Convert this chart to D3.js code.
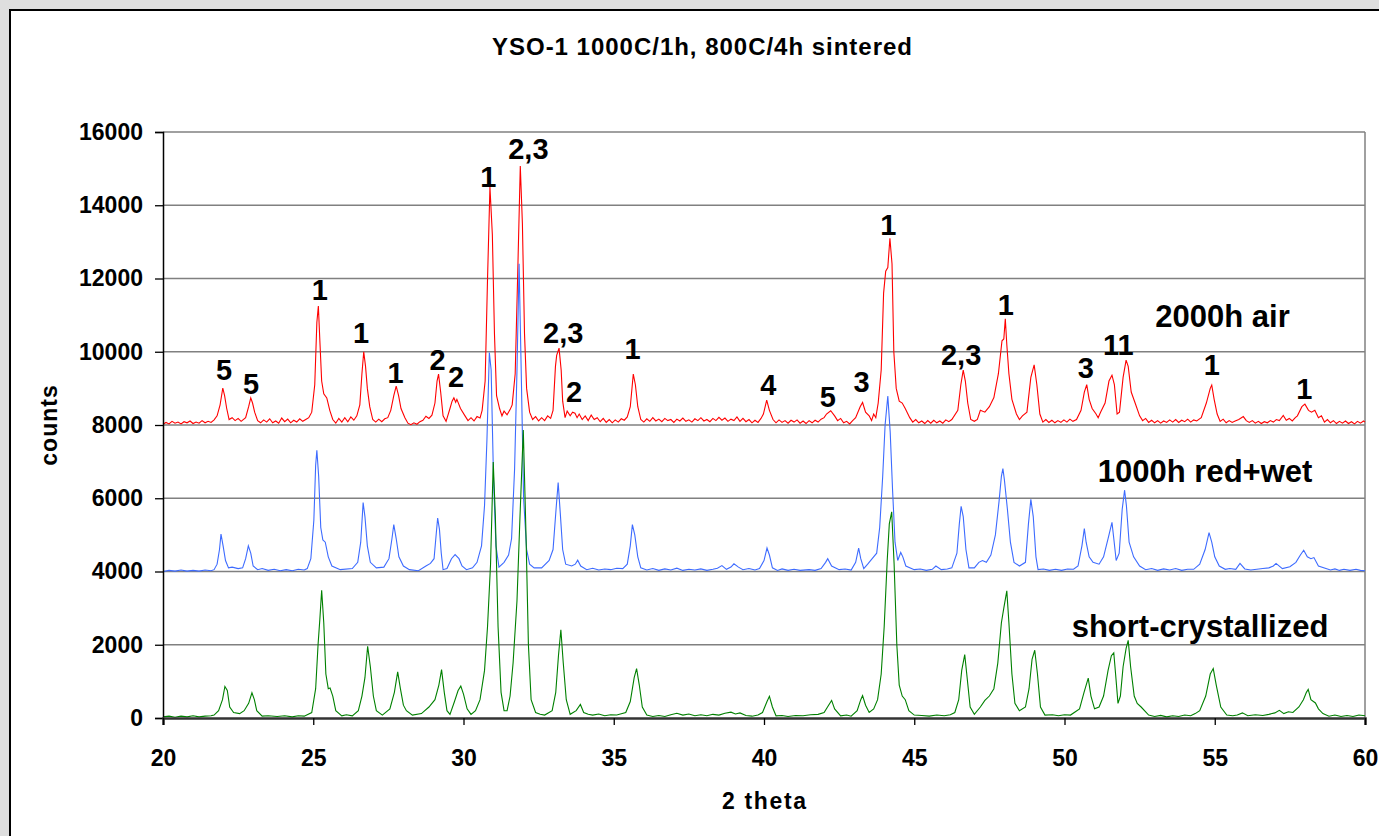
<!DOCTYPE html>
<html>
<head>
<meta charset="utf-8">
<script src="https://cdn.jsdelivr.net/npm/d3@7/dist/d3.min.js"></script>
<style>
body{margin:0;background:#dedede;overflow:hidden;}
text{font-family:"Liberation Sans",Arial,sans-serif;font-weight:bold;fill:#000;}
</style>
</head>
<body>
<div class="canvas"></div>
<script>
// ---- data: [2 theta, counts] ----
const xTicks=[20,25,30,35,40,45,50,55,60];
const yTicks=[0,2000,4000,6000,8000,10000,12000,14000,16000];

// 2000h air (plotted with +8000 offset)
const airTrace=[[20,8020],[20.1,8070],[20.2,8030],[20.3,8100],[20.4,8050],[20.5,8080],[20.6,8030],[20.7,8090],
[20.8,8060],[20.9,8110],[21,8040],[21.1,8080],[21.2,8050],[21.3,8120],[21.4,8060],[21.5,8100],[21.6,8070],[21.7,8140],
[21.8,8250],[21.9,8550],[21.99,9010],[22.05,8800],[22.12,8450],[22.2,8150],[22.3,8200],[22.4,8120],[22.5,8180],
[22.6,8100],[22.75,8200],[22.85,8500],[22.92,8740],[22.98,8600],[23.05,8350],[23.15,8120],[23.25,8060],[23.35,8140],
[23.45,8080],[23.55,8170],[23.65,8060],[23.75,8110],[23.85,8050],[23.95,8190],[24.05,8090],[24.15,8160],[24.25,8060],
[24.35,8130],[24.45,8080],[24.55,8170],[24.65,8100],[24.75,8150],[24.85,8200],[24.95,8350],[25.05,9100],[25.12,10800],
[25.17,11250],[25.22,10300],[25.28,9200],[25.35,8850],[25.45,8740],[25.55,8400],[25.65,8150],[25.75,8050],[25.85,8180],
[25.95,8080],[26.05,8200],[26.15,8090],[26.25,8220],[26.35,8130],[26.45,8250],[26.55,8550],[26.62,9400],[26.68,10000],
[26.74,9600],[26.8,9000],[26.88,8500],[26.98,8150],[27.08,8080],[27.18,8160],[27.28,8090],[27.38,8170],[27.48,8200],
[27.58,8400],[27.68,8800],[27.76,9060],[27.84,8800],[27.92,8450],[28.05,8200],[28.15,8050],[28.25,8010],[28.35,8060],
[28.45,8020],[28.55,8090],[28.65,8130],[28.75,8240],[28.85,8180],[28.95,8270],[29.05,8600],[29.12,9200],[29.17,9390],
[29.24,8900],[29.32,8250],[29.42,8100],[29.55,8450],[29.62,8650],[29.68,8740],[29.74,8620],[29.78,8700],[29.9,8450],
[30.05,8250],[30.15,8120],[30.25,8200],[30.35,8110],[30.45,8230],[30.55,8190],[30.62,8400],[30.72,9200],[30.8,12000],
[30.88,14500],[30.96,13200],[31.03,10500],[31.1,8800],[31.2,8450],[31.28,8250],[31.35,8380],[31.45,8280],[31.55,8420],
[31.62,8550],[31.72,9400],[31.8,12000],[31.89,15070],[31.96,13500],[32.03,10500],[32.1,9000],[32.2,8350],[32.3,8150],
[32.4,8230],[32.5,8110],[32.6,8200],[32.7,8120],[32.8,8250],[32.9,8180],[32.98,8400],[33.06,9600],[33.1,9900],
[33.18,10100],[33.25,9500],[33.3,8650],[33.38,8200],[33.45,8380],[33.55,8250],[33.63,8350],[33.71,8320],[33.78,8200],
[33.85,8300],[33.95,8150],[34.05,8250],[34.15,8120],[34.25,8270],[34.35,8150],[34.45,8200],[34.55,8090],[34.65,8180],
[34.75,8070],[34.85,8150],[34.95,8060],[35.05,8140],[35.15,8080],[35.25,8170],[35.35,8130],[35.45,8220],[35.55,8500],
[35.65,9390],[35.72,9100],[35.8,8500],[35.9,8150],[36,8080],[36.1,8170],[36.2,8100],[36.3,8200],[36.4,8110],[36.5,8160],
[36.6,8090],[36.7,8180],[36.8,8120],[36.9,8150],[37,8070],[37.1,8160],[37.2,8110],[37.3,8190],[37.4,8100],[37.5,8140],
[37.6,8080],[37.7,8170],[37.8,8120],[37.9,8200],[38,8110],[38.1,8150],[38.2,8090],[38.3,8180],[38.4,8120],[38.5,8210],
[38.6,8130],[38.7,8190],[38.8,8100],[38.9,8160],[39,8120],[39.1,8220],[39.2,8100],[39.3,8180],[39.4,8090],[39.5,8150],
[39.6,8060],[39.7,8130],[39.8,8070],[39.9,8180],[39.98,8300],[40.09,8680],[40.18,8400],[40.3,8150],[40.4,8060],
[40.5,8140],[40.6,8070],[40.7,8120],[40.8,8050],[40.9,8130],[41,8080],[41.1,8140],[41.2,8050],[41.3,8110],[41.4,8040],
[41.5,8120],[41.6,8060],[41.7,8130],[41.8,8080],[41.9,8160],[42,8200],[42.08,8300],[42.22,8390],[42.35,8250],
[42.45,8120],[42.55,8180],[42.65,8060],[42.75,8100],[42.85,8030],[42.95,8120],[43.05,8200],[43.2,8500],[43.28,8615],
[43.38,8350],[43.5,8250],[43.58,8120],[43.65,8300],[43.72,8200],[43.8,8600],[43.9,9500],[43.98,11600],[44.05,12200],
[44.12,12300],[44.19,13100],[44.26,12400],[44.32,10000],[44.4,9000],[44.5,8650],[44.6,8600],[44.7,8450],[44.85,8200],
[44.95,8080],[45.05,8150],[45.15,8060],[45.25,8110],[45.35,8040],[45.45,8120],[45.55,8050],[45.65,8130],[45.75,8060],
[45.85,8110],[45.95,8050],[46.05,8140],[46.15,8090],[46.25,8150],[46.45,8400],[46.55,9100],[46.63,9500],[46.7,9200],
[46.78,8600],[46.88,8150],[47,8100],[47.1,8150],[47.2,8400],[47.35,8350],[47.5,8500],[47.65,8750],[47.8,9400],
[47.92,10300],[47.98,10350],[48.03,10900],[48.08,10200],[48.15,9400],[48.25,8700],[48.4,8300],[48.5,8150],[48.6,8250],
[48.75,8350],[48.88,9300],[48.99,9640],[49.08,9100],[49.18,8300],[49.28,8080],[49.38,8150],[49.48,8070],[49.58,8130],
[49.68,8060],[49.78,8120],[49.88,8070],[49.98,8140],[50.08,8080],[50.18,8160],[50.28,8100],[50.4,8150],[50.55,8400],
[50.66,8900],[50.74,9100],[50.82,8700],[50.92,8450],[51.05,8300],[51.12,8200],[51.2,8350],[51.35,8600],[51.48,9200],
[51.58,9360],[51.66,9100],[51.75,8300],[51.83,8350],[51.95,9300],[52.05,9770],[52.12,9600],[52.22,8900],[52.35,8600],
[52.5,8250],[52.6,8120],[52.7,8180],[52.8,8070],[52.9,8130],[53,8060],[53.1,8120],[53.2,8050],[53.3,8110],[53.4,8070],
[53.5,8140],[53.6,8080],[53.7,8150],[53.8,8070],[53.9,8130],[54,8090],[54.1,8160],[54.2,8080],[54.3,8140],[54.4,8110],
[54.55,8200],[54.72,8600],[54.85,9000],[54.9,9090],[54.98,8700],[55.08,8300],[55.18,8100],[55.28,8160],[55.38,8060],
[55.48,8120],[55.58,8070],[55.68,8110],[55.8,8150],[55.95,8230],[56.05,8120],[56.15,8070],[56.25,8120],[56.35,8050],
[56.45,8100],[56.55,8040],[56.65,8090],[56.75,8060],[56.85,8120],[56.95,8080],[57.05,8150],[57.15,8120],[57.28,8260],
[57.38,8130],[57.48,8180],[57.58,8110],[57.68,8200],[57.75,8250],[57.9,8500],[58,8570],[58.12,8400],[58.22,8350],
[58.33,8400],[58.45,8200],[58.55,8250],[58.65,8080],[58.75,8150],[58.85,8060],[58.95,8120],[59.05,8040],[59.15,8100],
[59.25,8050],[59.35,8110],[59.45,8040],[59.55,8090],[59.65,8030],[59.75,8100],[59.85,8050],[59.95,8110],[60,8080]];

// 1000h red+wet (plotted with +4000 offset)
const wetTrace=[[20,4000],[20.2,4030],[20.4,4010],[20.6,4040],[20.8,4010],[21,4030],[21.2,4010],[21.4,4040],
[21.6,4020],[21.7,4050],[21.8,4200],[21.88,4600],[21.93,5020],[22,4700],[22.08,4300],[22.18,4100],[22.3,4120],
[22.5,4080],[22.65,4100],[22.75,4350],[22.84,4700],[22.92,4500],[23,4150],[23.15,4050],[23.3,4080],[23.5,4030],
[23.7,4060],[23.9,4020],[24.1,4050],[24.3,4020],[24.5,4060],[24.7,4040],[24.8,4080],[24.92,4350],[25.02,5400],
[25.08,6900],[25.12,7310],[25.18,6600],[25.25,5200],[25.32,4860],[25.4,4800],[25.5,4400],[25.62,4150],[25.9,4050],
[26.3,4080],[26.48,4250],[26.58,4800],[26.66,5880],[26.72,5500],[26.8,4700],[26.9,4250],[27.1,4100],[27.35,4120],
[27.52,4350],[27.62,4900],[27.68,5280],[27.76,4900],[27.85,4400],[28,4150],[28.2,4050],[28.5,4020],[28.75,4150],
[28.9,4220],[29.02,4350],[29.1,5100],[29.14,5460],[29.2,5150],[29.26,4500],[29.32,4050],[29.45,4080],[29.6,4350],
[29.72,4460],[29.85,4350],[29.95,4150],[30.1,4050],[30.3,4100],[30.45,4250],[30.6,4700],[30.7,5800],[30.78,7600],
[30.86,9980],[30.92,9500],[31,6500],[31.08,4700],[31.18,4120],[31.35,4250],[31.5,4450],[31.6,4900],[31.7,6800],
[31.78,9500],[31.85,12400],[31.92,9500],[32,6000],[32.1,4600],[32.2,4200],[32.35,4100],[32.6,4100],[32.85,4300],
[32.98,4600],[33.08,5700],[33.15,6430],[33.22,5600],[33.3,4600],[33.4,4200],[33.6,4150],[33.72,4200],[33.8,4310],
[33.9,4150],[34.1,4050],[34.3,4090],[34.5,4040],[34.7,4070],[34.9,4050],[35.1,4090],[35.3,4080],[35.45,4200],
[35.55,4700],[35.62,5280],[35.7,5000],[35.8,4400],[35.9,4100],[36.1,4040],[36.3,4080],[36.5,4030],[36.7,4070],
[36.9,4040],[37.1,4090],[37.3,4030],[37.5,4060],[37.7,4040],[37.9,4070],[38.1,4030],[38.3,4060],[38.45,4090],
[38.6,4160],[38.75,4060],[38.9,4120],[39,4210],[39.15,4120],[39.3,4050],[39.5,4080],[39.7,4040],[39.85,4080],
[40,4300],[40.1,4640],[40.18,4450],[40.28,4100],[40.45,4030],[40.6,4070],[40.8,4030],[41,4060],[41.2,4030],[41.5,4050],
[41.7,4030],[41.9,4080],[42.05,4250],[42.12,4350],[42.25,4150],[42.5,4050],[42.7,4070],[42.9,4040],[43.05,4250],
[43.15,4640],[43.22,4350],[43.32,4080],[43.45,4200],[43.6,4350],[43.75,4500],[43.85,5200],[43.95,6600],[44.03,8000],
[44.12,8790],[44.2,7800],[44.28,6200],[44.36,4800],[44.45,4300],[44.55,4520],[44.62,4400],[44.72,4150],[45,4050],
[45.2,4070],[45.4,4030],[45.6,4060],[45.72,4150],[45.9,4050],[46.1,4070],[46.25,4100],[46.42,4500],[46.5,5300],
[46.56,5780],[46.63,5500],[46.72,4600],[46.82,4100],[47,4100],[47.15,4250],[47.27,4300],[47.4,4250],[47.55,4450],
[47.7,5000],[47.82,5900],[47.9,6600],[47.95,6810],[48,6500],[48.1,5700],[48.2,4800],[48.32,4250],[48.5,4150],
[48.7,4250],[48.8,5300],[48.88,5970],[48.96,5500],[49.05,4400],[49.12,4050],[49.3,4070],[49.5,4030],[49.7,4060],
[49.9,4030],[50.1,4070],[50.3,4060],[50.45,4150],[50.58,4700],[50.66,5170],[50.72,4800],[50.82,4400],[50.95,4250],
[51.15,4200],[51.3,4400],[51.45,4900],[51.58,5340],[51.64,4900],[51.72,4300],[51.82,4500],[51.92,5700],[52,6220],
[52.06,5800],[52.15,4800],[52.3,4400],[52.5,4150],[52.7,4050],[52.9,4080],[53.1,4030],[53.3,4070],[53.5,4040],
[53.7,4080],[53.9,4030],[54.1,4060],[54.3,4060],[54.5,4200],[54.68,4600],[54.81,5060],[54.9,4800],[55,4400],
[55.15,4150],[55.35,4060],[55.5,4080],[55.7,4060],[55.84,4220],[56,4070],[56.2,4040],[56.4,4060],[56.6,4080],
[56.8,4100],[56.95,4150],[57.04,4220],[57.25,4080],[57.5,4130],[57.7,4250],[57.85,4450],[57.96,4580],[58.08,4400],
[58.2,4350],[58.3,4380],[58.45,4150],[58.7,4080],[58.85,4040],[59,4070],[59.15,4030],[59.3,4060],[59.5,4030],
[59.7,4060],[59.85,4030],[60,4020]];

// short-crystallized
const shortTrace=[[20,30],[20.2,50],[20.4,20],[20.6,50],[20.8,30],[21,60],[21.2,30],[21.4,50],[21.6,60],[21.7,80],
[21.85,200],[21.98,500],[22.06,860],[22.14,750],[22.22,300],[22.35,150],[22.55,120],[22.7,200],[22.85,400],[22.96,690],
[23.04,500],[23.12,200],[23.3,50],[23.5,60],[23.8,40],[24.05,60],[24.3,30],[24.5,60],[24.7,50],[24.95,150],[25.08,800],
[25.16,2000],[25.22,2700],[25.28,3490],[25.35,2600],[25.42,1200],[25.5,800],[25.56,820],[25.65,600],[25.75,200],
[25.95,60],[26.1,90],[26.3,60],[26.5,200],[26.62,600],[26.72,1100],[26.81,1960],[26.9,1400],[27,600],[27.1,200],
[27.3,80],[27.55,250],[27.7,700],[27.81,1260],[27.9,800],[28,350],[28.1,200],[28.3,80],[28.6,120],[28.85,300],
[29.05,500],[29.18,900],[29.27,1320],[29.36,700],[29.45,200],[29.55,100],[29.7,450],[29.82,750],[29.91,870],[30,650],
[30.12,250],[30.25,100],[30.4,200],[30.55,500],[30.7,1300],[30.8,2500],[30.9,4200],[30.99,6990],[31.06,5500],
[31.15,2500],[31.25,700],[31.35,200],[31.45,200],[31.55,600],[31.65,1500],[31.78,3200],[31.88,5500],[31.99,7860],
[32.08,5000],[32.16,2000],[32.25,500],[32.4,150],[32.55,100],[32.7,80],[32.95,200],[33.07,700],[33.16,1700],
[33.24,2410],[33.32,1500],[33.42,500],[33.55,100],[33.75,200],[33.89,370],[34,150],[34.15,100],[34.3,80],[34.5,110],
[34.7,60],[34.9,90],[35.1,80],[35.4,150],[35.55,450],[35.68,1100],[35.76,1350],[35.85,900],[35.95,300],[36.1,80],
[36.3,40],[36.5,70],[36.7,40],[36.9,90],[37.1,130],[37.3,80],[37.5,110],[37.7,60],[37.9,90],[38.1,60],[38.3,100],
[38.5,80],[38.7,130],[38.9,160],[39.05,110],[39.2,140],[39.4,70],[39.6,50],[39.8,80],[39.95,150],[40.1,450],
[40.18,590],[40.28,300],[40.4,60],[40.6,70],[40.8,40],[41.05,70],[41.3,60],[41.55,90],[41.8,100],[42,150],[42.15,350],
[42.25,480],[42.35,250],[42.55,60],[42.75,80],[42.9,50],[43.1,200],[43.22,500],[43.28,610],[43.38,350],[43.5,150],
[43.65,250],[43.78,500],[43.9,1200],[44,2500],[44.1,4300],[44.17,5300],[44.25,5630],[44.33,4200],[44.42,2000],
[44.5,900],[44.6,600],[44.7,500],[44.82,200],[45,80],[45.25,70],[45.5,50],[45.75,80],[46,60],[46.2,90],[46.35,150],
[46.48,500],[46.58,1300],[46.68,1730],[46.76,1100],[46.86,300],[47,100],[47.2,300],[47.35,480],[47.5,600],[47.65,800],
[47.78,1500],[47.9,2600],[47.98,3000],[48.08,3470],[48.15,2600],[48.25,1200],[48.35,400],[48.5,200],[48.7,300],
[48.82,800],[48.92,1600],[49.01,1850],[49.1,1200],[49.2,300],[49.35,80],[49.6,90],[49.8,60],[50,90],[50.2,80],
[50.5,250],[50.65,700],[50.79,1090],[50.88,600],[51,250],[51.15,300],[51.3,600],[51.45,1300],[51.56,1700],[51.64,1780],
[51.7,1200],[51.78,400],[51.86,600],[51.95,1400],[52.05,1900],[52.12,2120],[52.2,1400],[52.32,600],[52.42,400],
[52.55,300],[52.8,80],[53,40],[53.2,70],[53.4,30],[53.6,60],[53.8,40],[54,80],[54.2,60],[54.35,120],[54.5,200],
[54.7,600],[54.85,1200],[54.95,1350],[55.05,900],[55.2,300],[55.4,80],[55.6,60],[55.75,80],[55.92,140],[56.1,60],
[56.35,90],[56.6,70],[56.8,100],[57,140],[57.15,210],[57.3,120],[57.45,170],[57.6,150],[57.8,300],[57.95,500],
[58.05,700],[58.11,780],[58.2,500],[58.35,410],[58.45,250],[58.6,120],[58.8,50],[59,80],[59.2,40],[59.4,70],[59.6,40],
[59.8,80],[60,60]];

// phase labels over the 2000h air peaks: text, 2 theta, counts (baseline)
const peakText=["5","5","1","1","1","2","2","1","2,3","2,3","2","1","4","5","3","1","2,3","1","3","11","1","1"];
const peakTheta=[22.03,22.93,25.22,26.59,27.74,29.14,29.75,30.83,32.16,33.32,33.68,35.63,40.14,42.12,43.25,44.14,46.56,48.05,50.71,51.79,54.9,57.98];
const peakCounts=[9225,8843,11411,10244,9135,9498,9042,14506,15254,10244,8633,9800,8816,8496,8906,13186,9634,10999,9272,9908,9362,8698];

const seriesNames=["2000h air","1000h red+wet","short-crystallized"];
const seriesTheta=[55.26,54.68,54.51];
const seriesCounts=[10665,6431,2213];

// ---- layout ----
const dims={width:1379,height:836};
const plot={left:163,top:132,right:1365,bottom:718};

const svg=d3.select('.canvas')
.append('svg')
.attr('width',dims.width)
.attr('height',dims.height)
.style('display','block');

// chart area (runs off the right and bottom of the window)
svg.append('rect')
.attr('x',10).attr('y',10)
.attr('width',1420).attr('height',900)
.attr('fill','#fff')
.attr('stroke','#000')
.attr('stroke-width',2);

const x=d3.scaleLinear().domain([20,60]).range([plot.left,plot.right]);
const y=d3.scaleLinear().domain([0,16000]).range([plot.bottom,plot.top]);

// gridlines
svg.append('g')
.selectAll('line')
.data(yTicks.filter(d=>d>0))
.enter().append('line')
.attr('x1',plot.left).attr('x2',plot.right)
.attr('y1',d=>y(d)).attr('y2',d=>y(d))
.attr('stroke','#808080')
.attr('stroke-width',1.3);

// right border of plot
svg.append('line')
.attr('x1',plot.right).attr('x2',plot.right)
.attr('y1',plot.top).attr('y2',plot.bottom)
.attr('stroke','#808080')
.attr('stroke-width',1.5);

// traces
const line=d3.line()
.x(d=>x(d[0]))
.y(d=>y(d[1]));

const traces=[[airTrace,'#ff0000'],[wetTrace,'#3d6bff'],[shortTrace,'#008000']];
svg.append('g')
.selectAll('path')
.data(traces)
.enter().append('path')
.attr('d',d=>line(d[0]))
.attr('fill','none')
.attr('stroke',d=>d[1])
.attr('stroke-width',1.1);

// axes
const yAxis=d3.axisLeft(y).tickValues(yTicks).tickSize(8).tickPadding(12).tickFormat(d3.format('d'));
const xAxis=d3.axisBottom(x).tickValues(xTicks).tickSize(7).tickPadding(25);

const yG=svg.append('g').attr('transform',`translate(${plot.left},0)`).call(yAxis);
const xG=svg.append('g').attr('transform',`translate(0,${plot.bottom})`).call(xAxis);

yG.select('.domain').attr('stroke','#000').attr('stroke-width',1.5);
xG.select('.domain').attr('stroke','#333').attr('stroke-width',2.5);
[yG,xG].forEach(g=>{
    g.selectAll('.tick line').attr('stroke','#000').attr('stroke-width',1.3);
    g.selectAll('.tick text')
    .style('font-size','23px')
    .style('font-family','"Liberation Sans",Arial,sans-serif')
    .style('font-weight','bold')
    .attr('fill','#000');
});

// title + axis titles
svg.append('text')
.attr('x',702).attr('y',55)
.attr('text-anchor','middle')
.attr('textLength',420)
.attr('lengthAdjust','spacing')
.style('font-size','24px')
.text('YSO-1 1000C/1h, 800C/4h sintered');

svg.append('text')
.attr('x',(plot.left+plot.right)/2).attr('y',809)
.attr('text-anchor','middle')
.attr('textLength',84)
.attr('lengthAdjust','spacing')
.style('font-size','23px')
.text('2 theta');

svg.append('text')
.attr('transform',`translate(57,${(plot.top+plot.bottom)/2}) rotate(-90)`)
.attr('text-anchor','middle')
.style('font-size','23px')
.style('letter-spacing','1px')
.text('counts');

// peak labels
svg.append('g')
.selectAll('text')
.data(peakText)
.enter().append('text')
.attr('x',(d,i)=>x(peakTheta[i]))
.attr('y',(d,i)=>y(peakCounts[i]))
.attr('text-anchor','middle')
.style('font-size','29px')
.text(d=>d);

// series labels
svg.append('g')
.selectAll('text')
.data(seriesNames)
.enter().append('text')
.attr('x',(d,i)=>x(seriesTheta[i]))
.attr('y',(d,i)=>y(seriesCounts[i]))
.attr('text-anchor','middle')
.style('font-size','31px')
.text(d=>d);
</script>
</body>
</html>
